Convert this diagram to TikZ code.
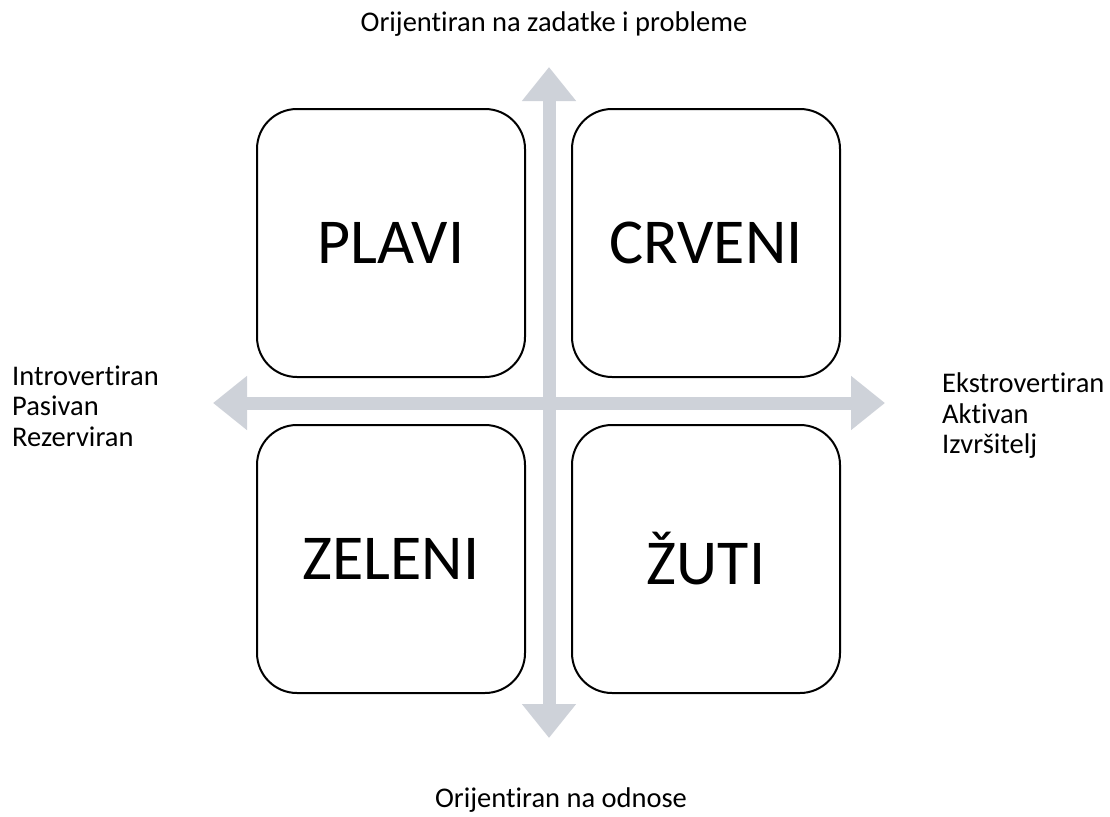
\documentclass[tikz,border=0pt]{standalone}
\usepackage{fontspec}
\setmainfont{Carlito}[Ligatures=NoCommon]
\usetikzlibrary{arrows.meta}
\definecolor{axisgray}{RGB}{206,210,217}

\begin{document}
\begin{tikzpicture}[x=1pt,y=-1pt,
	axis/.style={axisgray, line width=13pt, {Triangle[length=34pt,width=52pt]}-{Triangle[length=34pt,width=52pt]}},
	quad/.style={draw, line width=2pt, rounded corners=40pt, minimum size=268pt, inner sep=0pt, font=\fontsize{64}{70}\selectfont},
	lbl/.style={inner sep=0pt, font=\fontsize{28.5}{30.5}\selectfont}]
			\useasboundingbox (0,0) rectangle (1110,816);
			
			\coordinate[](ytop) at (549,67) ;
			\coordinate[](ybot) at (549,738) ;
			\coordinate[](xleft) at (213,403) ;
			\coordinate[](xright) at (885,403) ;
			
			\draw[axis](xleft) -- (xright);
			\draw[axis](ybot) -- (ytop);
			
			\node[quad](plavi) at (391,243) {PLAVI};
			\node[quad](crveni) at (706,243) {CRVENI};
			\node[quad](zeleni) at (391,559) {ZELENI};
			\node[quad](zuti) at (706,559) {ŽUTI};
			
			\node[lbl, anchor=base](zadaci) at (554,32) {Orijentiran na zadatke i probleme};
			\node[lbl, anchor=base](odnosi) at (561,807) {Orijentiran na odnose};
			\node[lbl, anchor=west, align=left](intro) at (12,406) {Introvertiran\\Pasivan\\Rezerviran};
			\node[lbl, anchor=west, align=left](ekstro) at (942,416) {Ekstrovertiran\\Aktivan\\Izvršitelj};
			\end{tikzpicture}
\end{document}
